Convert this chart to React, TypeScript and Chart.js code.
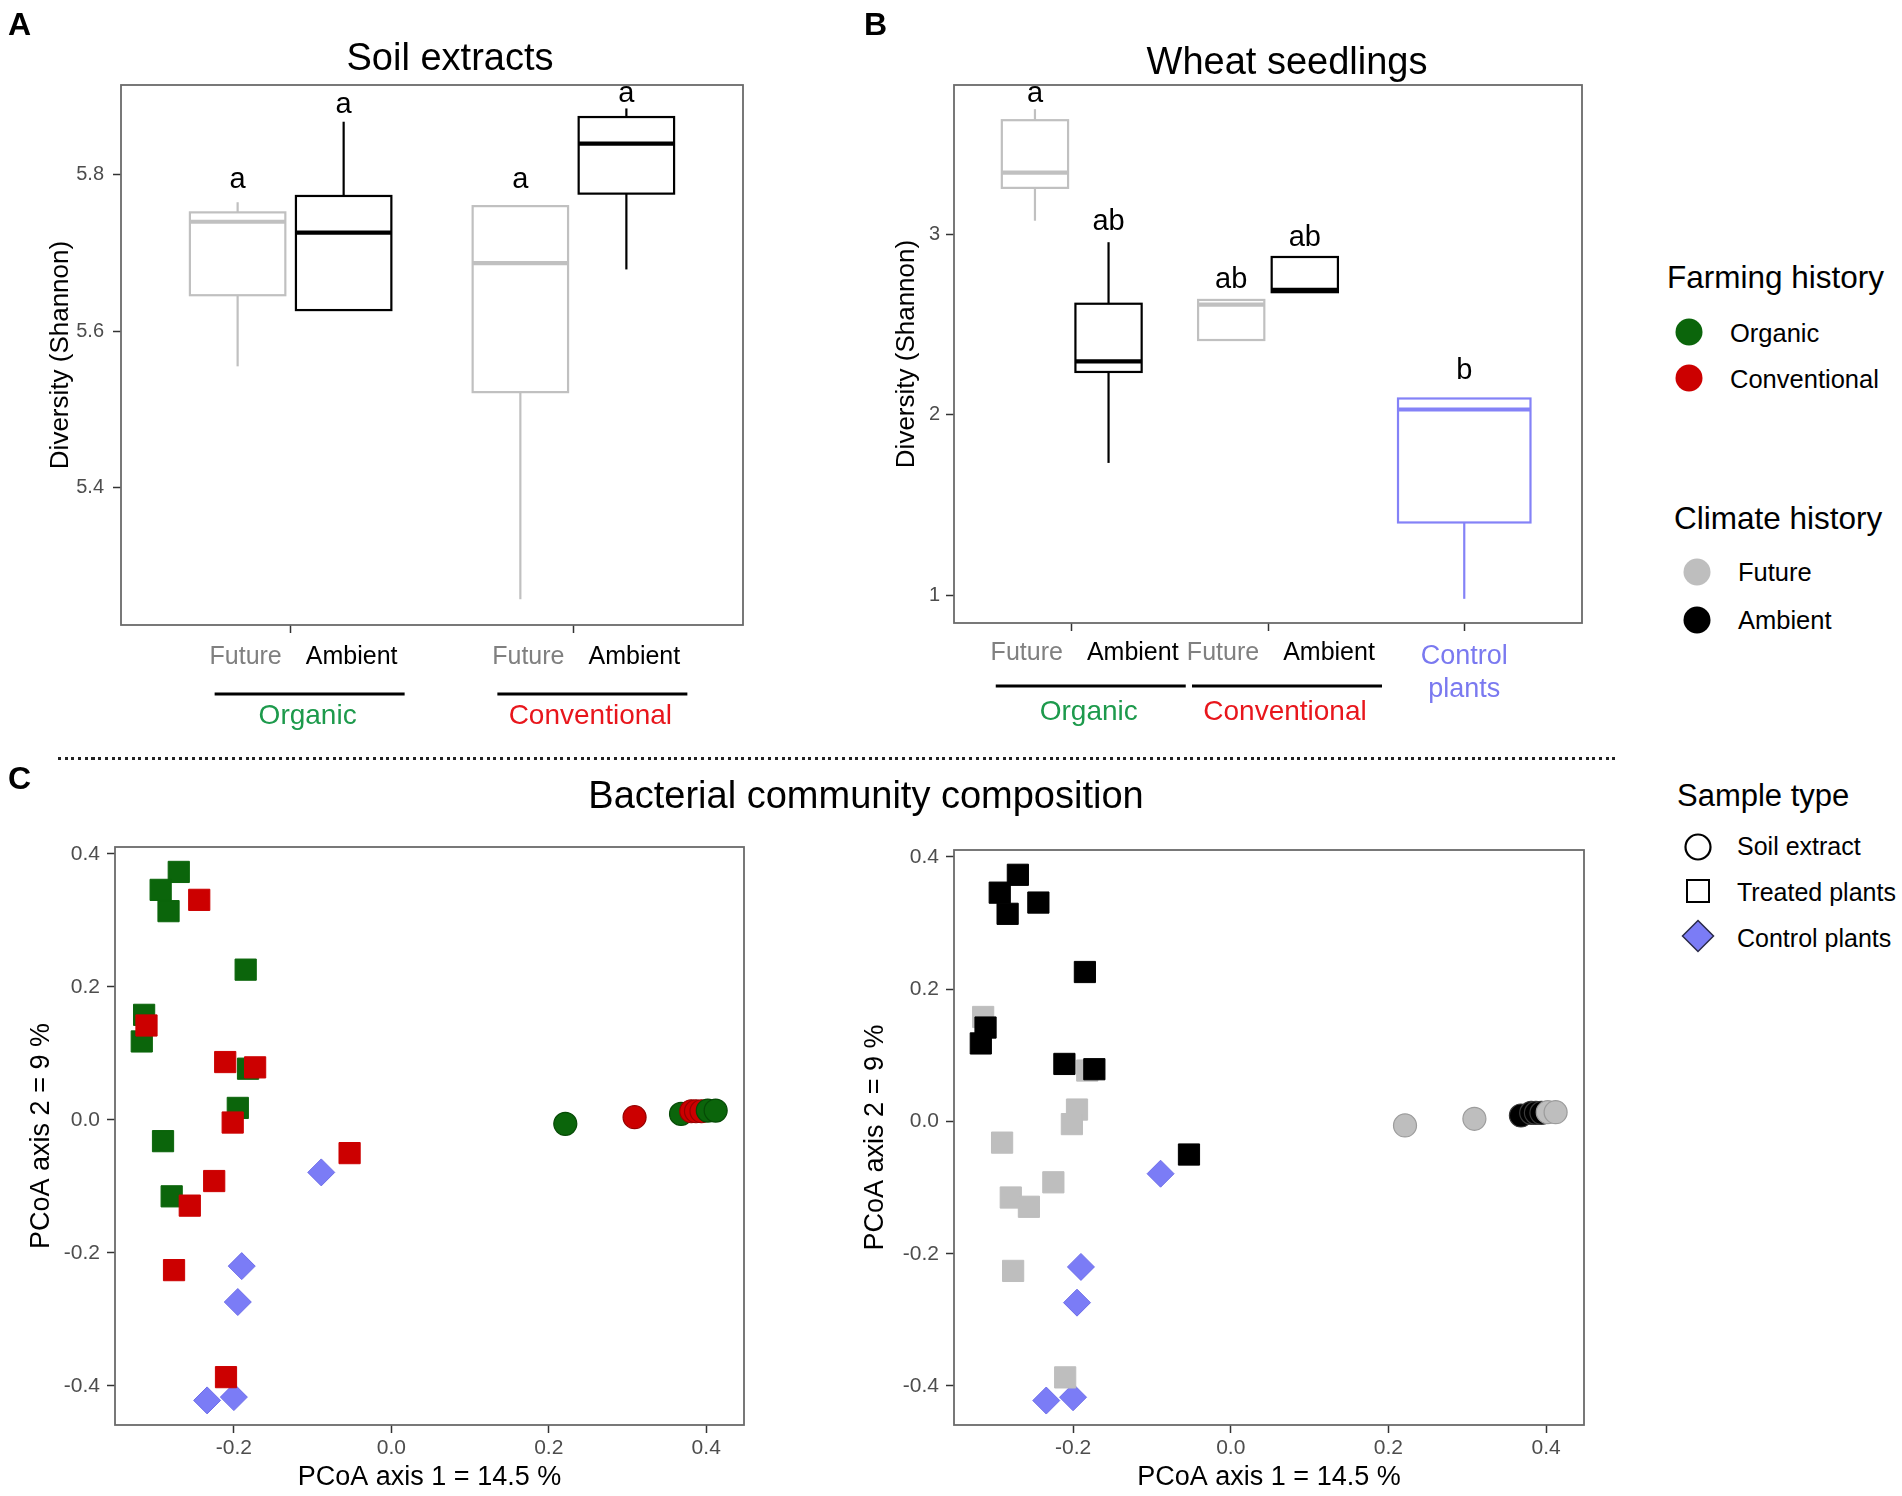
import React, { useEffect, useRef } from 'react';
import { Chart, registerables } from 'chart.js';

Chart.register(...registerables);

const FONT = '"Liberation Sans", Arial, Helvetica, sans-serif';
Chart.defaults.font.family = FONT;
Chart.defaults.color = '#000';

// ---------------- Panel A : Soil extracts ----------------
const soilGroups = ['Organic', 'Conventional'];
const soilBoxGroup = [1, 1, 2, 2];
const soilBoxClimate = ['Future', 'Ambient', 'Future', 'Ambient'];
const soilMin = [5.555, 5.627, 5.257, 5.679];
const soilQ1 = [5.646, 5.627, 5.522, 5.776];
const soilMedian = [5.74, 5.726, 5.687, 5.84];
const soilQ3 = [5.752, 5.773, 5.76, 5.874];
const soilMax = [5.765, 5.868, 5.76, 5.885];
const soilLetters = ['a', 'a', 'a', 'a'];
const soilLetterY = [5.794, 5.889, 5.794, 5.903];
const soilYTicks = [5.4, 5.6, 5.8];
const soilYRange = [5.224, 5.915];

// ---------------- Panel B : Wheat seedlings ----------------
const wheatGroups = ['Organic', 'Conventional', 'Control plants'];
const wheatBoxGroup = [1, 1, 2, 2, 3];
const wheatBoxClimate = ['Future', 'Ambient', 'Future', 'Ambient', 'Control'];
const wheatMin = [3.074, 1.732, 2.413, 2.678, 0.979];
const wheatQ1 = [3.256, 2.236, 2.413, 2.678, 1.402];
const wheatMedian = [3.34, 2.295, 2.609, 2.691, 2.028];
const wheatQ3 = [3.631, 2.614, 2.635, 2.873, 2.089];
const wheatMax = [3.692, 2.955, 2.635, 2.873, 2.089];
const wheatLetters = ['a', 'ab', 'ab', 'ab', 'b'];
const wheatLetterY = [3.775, 3.066, 2.746, 2.977, 2.244];
const wheatYTicks = [1, 2, 3];
const wheatYRange = [0.845, 3.826];

const climateLevels = ['Future', 'Ambient'];

// ---------------- Panel C : PCoA ----------------
const plantPC1 = [-0.27, -0.293, -0.283, -0.185, -0.314, -0.317, -0.182, -0.195, -0.29, -0.279,
  -0.244, -0.311, -0.211, -0.173, -0.2015, -0.053, -0.225, -0.256, -0.276, -0.21];
const plantPC2 = [0.373, 0.346, 0.314, 0.226, 0.158, 0.118, 0.077, 0.018, -0.032, -0.115,
  0.331, 0.142, 0.087, 0.079, -0.004, -0.05, -0.092, -0.129, -0.226, -0.387];
const plantFarming = ['Organic', 'Organic', 'Organic', 'Organic', 'Organic', 'Organic', 'Organic', 'Organic', 'Organic', 'Organic',
  'Conventional', 'Conventional', 'Conventional', 'Conventional', 'Conventional', 'Conventional', 'Conventional', 'Conventional', 'Conventional', 'Conventional'];
const plantClimate = ['Ambient', 'Ambient', 'Ambient', 'Ambient', 'Future', 'Ambient', 'Future', 'Future', 'Future', 'Future',
  'Ambient', 'Ambient', 'Ambient', 'Ambient', 'Future', 'Ambient', 'Future', 'Future', 'Future', 'Future'];
const controlPC1 = [-0.089, -0.19, -0.195, -0.234, -0.2];
const controlPC2 = [-0.079, -0.22, -0.274, -0.422, -0.417];
const soilPC1 = [0.221, 0.309, 0.368, 0.381, 0.387, 0.394, 0.402, 0.412];
const soilPC2 = [-0.006, 0.004, 0.009, 0.013, 0.013, 0.013, 0.014, 0.014];
const soilFarming = ['Organic', 'Conventional', 'Organic', 'Conventional', 'Conventional', 'Conventional', 'Organic', 'Organic'];
const soilClimate = ['Future', 'Future', 'Ambient', 'Ambient', 'Ambient', 'Ambient', 'Future', 'Future'];
const pcoaXTicks = [-0.2, 0, 0.2, 0.4];
const pcoaYTicks = [-0.4, -0.2, 0, 0.2, 0.4];
const pcoaXRange = [-0.351, 0.448];
const pcoaYRange = [-0.459, 0.4105];

// ---------------- styles ----------------
const farmingColor: Record<string, string> = { Organic: '#0b650b', Conventional: '#cc0000' };
const farmingBorder: Record<string, string> = { Organic: '#064a06', Conventional: '#960000' };
const climateColor: Record<string, string> = { Future: '#bebebe', Ambient: '#000000' };
const climateBorder: Record<string, string> = { Future: '#9c9c9c', Ambient: '#3a3a3a' };
const boxColor: Record<string, string> = { Future: '#c0c0c0', Ambient: '#000000', Control: '#8482f7' };
const groupTextColor: Record<string, string> = { Organic: '#1d9a4c', Conventional: '#e8161c', 'Control plants': '#7a79f0' };
const labelColor: Record<string, string> = { Future: '#808080', Ambient: '#000000' };
const CONTROL_FILL = '#7b7cf6';
const DODGE = 0.1875;
const HALF_BOX = 0.16875;

type BoxSpec = {
  group: number[]; climate: string[]; min: number[]; q1: number[]; med: number[]; q3: number[]; max: number[];
  letters: string[]; letterY: number[];
};

function boxPlugin(spec: BoxSpec) {
  return {
    id: 'boxes',
    afterDatasetsDraw(chart: any) {
      const { ctx, scales } = chart;
      const x = scales.x, y = scales.y;
      ctx.save();
      const line = (x1: number, y1: number, x2: number, y2: number) => {
        ctx.beginPath(); ctx.moveTo(x1, y1); ctx.lineTo(x2, y2); ctx.stroke();
      };
      spec.group.forEach((g, i) => {
        const c = spec.climate[i];
        const single = c === 'Control';
        const cx = g + (single ? 0 : c === 'Future' ? -DODGE : DODGE);
        const hw = single ? HALF_BOX * 2 : HALF_BOX;
        const xl = x.getPixelForValue(cx - hw);
        const xr = x.getPixelForValue(cx + hw);
        const xc = x.getPixelForValue(cx);
        const yMin = y.getPixelForValue(spec.min[i]);
        const yQ1 = y.getPixelForValue(spec.q1[i]);
        const yMed = y.getPixelForValue(spec.med[i]);
        const yQ3 = y.getPixelForValue(spec.q3[i]);
        const yMax = y.getPixelForValue(spec.max[i]);
        ctx.strokeStyle = boxColor[c];
        ctx.lineWidth = 2.2;
        line(xc, yQ3, xc, yMax);
        line(xc, yQ1, xc, yMin);
        ctx.fillStyle = '#ffffff';
        ctx.fillRect(xl, yQ3, xr - xl, yQ1 - yQ3);
        ctx.strokeRect(xl, yQ3, xr - xl, yQ1 - yQ3);
        ctx.lineWidth = 4.2;
        line(xl, yMed, xr, yMed);
        ctx.fillStyle = '#000';
        ctx.font = `29px ${FONT}`;
        ctx.textAlign = 'center';
        ctx.textBaseline = 'middle';
        ctx.fillText(spec.letters[i], xc, y.getPixelForValue(spec.letterY[i]));
      });
      ctx.restore();
    },
  };
}

function groupLabelPlugin(groups: string[], off: { lab: number; line: number; grp: number }) {
  return {
    id: 'groupLabels',
    afterDraw(chart: any) {
      const { ctx, chartArea, scales } = chart;
      const b = chartArea.bottom;
      ctx.save();
      ctx.textAlign = 'center';
      ctx.textBaseline = 'middle';
      groups.forEach((g, i) => {
        const px = scales.x.getPixelForValue(i + 1);
        if (g === 'Control plants') {
          ctx.fillStyle = groupTextColor[g];
          ctx.font = `27px ${FONT}`;
          const words = g.split(' ');
          ctx.fillText(words[0], px, b + off.lab + 4);
          ctx.fillText(words[1], px, b + off.lab + 37);
        } else {
          ctx.font = `25px ${FONT}`;
          ctx.fillStyle = labelColor[climateLevels[0]];
          ctx.fillText(climateLevels[0], px - 45, b + off.lab);
          ctx.fillStyle = labelColor[climateLevels[1]];
          ctx.fillText(climateLevels[1], px + 61, b + off.lab);
          ctx.strokeStyle = '#000';
          ctx.lineWidth = 3;
          ctx.beginPath();
          ctx.moveTo(px - 76, b + off.line);
          ctx.lineTo(px + 114, b + off.line);
          ctx.stroke();
          ctx.font = `28px ${FONT}`;
          ctx.fillStyle = groupTextColor[g];
          ctx.fillText(g, px + 17, b + off.grp);
        }
      });
      ctx.restore();
    },
  };
}

const framePlugin = {
  id: 'frame',
  afterDraw(chart: any) {
    const { ctx, chartArea: a } = chart;
    ctx.save();
    ctx.strokeStyle = '#6a6a6a';
    ctx.lineWidth = 1.8;
    ctx.strokeRect(a.left, a.top, a.right - a.left, a.bottom - a.top);
    ctx.restore();
  },
};

function yAxis(o: { range: number[]; ticks: number[]; width: number; fmt: (v: number) => string; title: string; titleSize: number; titlePad: number; tickPad: number; tickSize: number }) {
  return {
    type: 'linear',
    position: 'left',
    min: o.range[0],
    max: o.range[1],
    afterBuildTicks: (s: any) => { s.ticks = o.ticks.map((v) => ({ value: v })); },
    afterFit: (s: any) => { s.width = o.width; },
    ticks: { color: '#4d4d4d', font: { size: o.tickSize }, padding: o.tickPad, callback: (v: any) => o.fmt(Number(v)) },
    grid: { drawOnChartArea: false, drawTicks: true, tickLength: 8, tickColor: '#333', tickWidth: 1.5 },
    border: { display: false },
    title: { display: true, text: o.title, color: '#000', font: { size: o.titleSize, lineHeight: 1 }, padding: { top: o.titlePad, bottom: 0 } },
  };
}

function makeBoxChart(canvas: HTMLCanvasElement, o: {
  groups: string[]; spec: BoxSpec; yRange: number[]; yTicks: number[]; fmt: (v: number) => string;
  yWidth: number; titlePad: number; tickPad: number; xHeight: number; padding: any; off: any;
}) {
  return new Chart(canvas, {
    type: 'scatter',
    data: { datasets: [] },
    options: {
      animation: false,
      responsive: false,
      devicePixelRatio: 1,
      events: [],
      layout: { padding: o.padding },
      plugins: { legend: { display: false }, tooltip: { enabled: false }, title: { display: false } },
      scales: {
        x: {
          type: 'linear',
          position: 'bottom',
          min: 0.4,
          max: o.groups.length + 0.6,
          afterBuildTicks: (s: any) => { s.ticks = o.groups.map((_, i) => ({ value: i + 1 })); },
          afterFit: (s: any) => { s.height = o.xHeight; },
          ticks: { display: false },
          grid: { drawOnChartArea: false, drawTicks: true, tickLength: 8, tickColor: '#333', tickWidth: 1.5 },
          border: { display: false },
        },
        y: yAxis({ range: o.yRange, ticks: o.yTicks, width: o.yWidth, fmt: o.fmt, title: 'Diversity (Shannon)', titleSize: 26, titlePad: o.titlePad, tickPad: o.tickPad, tickSize: 20 }),
      },
    } as any,
    plugins: [boxPlugin(o.spec), groupLabelPlugin(o.groups, o.off), framePlugin],
  });
}

function makePcoaChart(canvas: HTMLCanvasElement, byClimate: boolean, o: { yWidth: number; titlePad: number; padding: any }) {
  const plantCols = byClimate ? plantClimate.map((c) => climateColor[c]) : plantFarming.map((f) => farmingColor[f]);
  const soilCols = byClimate ? soilClimate.map((c) => climateColor[c]) : soilFarming.map((f) => farmingColor[f]);
  const soilBorders = byClimate ? soilClimate.map((c) => climateBorder[c]) : soilFarming.map((f) => farmingBorder[f]);
  return new Chart(canvas, {
    type: 'scatter',
    data: {
      datasets: [
        {
          label: 'Treated plants',
          data: plantPC1.map((x, i) => ({ x, y: plantPC2[i] })),
          pointStyle: 'rect',
          pointRadius: 15,
          backgroundColor: plantCols,
          borderColor: plantCols,
          borderWidth: 1,
        },
        {
          label: 'Control plants',
          data: controlPC1.map((x, i) => ({ x, y: controlPC2[i] })),
          pointStyle: 'rectRot',
          pointRadius: 13.5,
          backgroundColor: CONTROL_FILL,
          borderColor: '#6e6ee8',
          borderWidth: 1,
        },
        {
          label: 'Soil extract',
          data: soilPC1.map((x, i) => ({ x, y: soilPC2[i] })),
          pointStyle: 'circle',
          pointRadius: 11.5,
          backgroundColor: soilCols,
          borderColor: soilBorders,
          borderWidth: 1.2,
        },
      ],
    },
    options: {
      animation: false,
      responsive: false,
      devicePixelRatio: 1,
      events: [],
      layout: { padding: o.padding },
      plugins: { legend: { display: false }, tooltip: { enabled: false }, title: { display: false } },
      scales: {
        x: {
          type: 'linear',
          position: 'bottom',
          min: pcoaXRange[0],
          max: pcoaXRange[1],
          afterBuildTicks: (s: any) => { s.ticks = pcoaXTicks.map((v) => ({ value: v })); },
          afterFit: (s: any) => { s.height = 71; },
          ticks: { color: '#4d4d4d', font: { size: 21 }, padding: 3, callback: (v: any) => Number(v).toFixed(1) },
          grid: { drawOnChartArea: false, drawTicks: true, tickLength: 8, tickColor: '#333', tickWidth: 1.5 },
          border: { display: false },
          title: { display: true, text: 'PCoA axis 1 = 14.5 %', color: '#000', font: { size: 27, lineHeight: 1 }, padding: { top: 0, bottom: 4.5 } },
        },
        y: yAxis({ range: pcoaYRange, ticks: pcoaYTicks, width: o.yWidth, fmt: (v) => v.toFixed(1), title: 'PCoA axis 2 = 9 %', titleSize: 27, titlePad: o.titlePad, tickPad: 7, tickSize: 21 }),
      },
    } as any,
    plugins: [framePlugin],
  });
}

const Text = ({ x, y, size, children, anchor = 'start', bold = false, color = '#000' }: any) => (
  <div
    style={{
      position: 'absolute', left: x, top: y - size / 2, fontSize: size, lineHeight: `${size}px`, fontFamily: FONT,
      fontWeight: bold ? 700 : 400, color, whiteSpace: 'nowrap', transform: anchor === 'middle' ? 'translateX(-50%)' : undefined,
    }}
  >
    {children}
  </div>
);

const Sym = ({ cx, cy, size, children }: any) => (
  <svg style={{ position: 'absolute', left: cx - size / 2, top: cy - size / 2 }} width={size} height={size} viewBox={`0 0 ${size} ${size}`}>
    {children}
  </svg>
);

export default function App() {
  const refA = useRef<HTMLCanvasElement>(null);
  const refB = useRef<HTMLCanvasElement>(null);
  const refC1 = useRef<HTMLCanvasElement>(null);
  const refC2 = useRef<HTMLCanvasElement>(null);

  useEffect(() => {
    const charts: Chart[] = [];
    charts.push(makeBoxChart(refA.current!, {
      groups: soilGroups,
      spec: { group: soilBoxGroup, climate: soilBoxClimate, min: soilMin, q1: soilQ1, med: soilMedian, q3: soilQ3, max: soilMax, letters: soilLetters, letterY: soilLetterY },
      yRange: soilYRange, yTicks: soilYTicks, fmt: (v) => v.toFixed(1),
      yWidth: 121, titlePad: 48, tickPad: 9, xHeight: 115,
      padding: { left: 0, top: 85, right: 17, bottom: 0 },
      off: { lab: 32, line: 69, grp: 91 },
    }));
    charts.push(makeBoxChart(refB.current!, {
      groups: wheatGroups,
      spec: { group: wheatBoxGroup, climate: wheatBoxClimate, min: wheatMin, q1: wheatQ1, med: wheatMedian, q3: wheatQ3, max: wheatMax, letters: wheatLetters, letterY: wheatLetterY },
      yRange: wheatYRange, yTicks: wheatYTicks, fmt: (v) => String(Math.round(v)),
      yWidth: 114, titlePad: 54, tickPad: 6, xHeight: 117,
      padding: { left: 0, top: 85, right: 18, bottom: 0 },
      off: { lab: 30, line: 63, grp: 89 },
    }));
    charts.push(makePcoaChart(refC1.current!, false, { yWidth: 115, titlePad: 28.5, padding: { left: 0, top: 87, right: 9, bottom: 0 } }));
    charts.push(makePcoaChart(refC2.current!, true, { yWidth: 124, titlePad: 32.5, padding: { left: 0, top: 90, right: 3, bottom: 0 } }));
    return () => charts.forEach((c) => c.destroy());
  }, []);

  const cv = (left: number, top: number, w: number, h: number) => ({ position: 'absolute' as const, left, top, width: w, height: h });

  return (
    <div style={{ position: 'absolute', left: 0, top: 0, width: 1902, height: 1496, background: '#fff', overflow: 'hidden', fontFamily: FONT }}>
      <canvas ref={refA} width={760} height={740} style={cv(0, 0, 760, 740)} />
      <canvas ref={refB} width={760} height={740} style={cv(840, 0, 760, 740)} />
      <canvas ref={refC1} width={760} height={736} style={cv(0, 760, 760, 736)} />
      <canvas ref={refC2} width={770} height={736} style={cv(830, 760, 770, 736)} />

      <Text x={8} y={24} size={32} bold>A</Text>
      <Text x={864} y={24} size={32} bold>B</Text>
      <Text x={8} y={778} size={32} bold>C</Text>

      <Text x={450} y={57} size={38} anchor="middle">Soil extracts</Text>
      <Text x={1287} y={61} size={38} anchor="middle">Wheat seedlings</Text>
      <Text x={866} y={795} size={38} anchor="middle">Bacterial community composition</Text>

      <div style={{ position: 'absolute', left: 58, top: 757, width: 1561, height: 3, background: 'repeating-linear-gradient(to right, #222 0px, #222 3px, transparent 3px, transparent 6.7px)' }} />

      {/* Farming history legend */}
      <Text x={1667} y={278} size={31.5}>Farming history</Text>
      <Sym cx={1689} cy={332} size={30}><circle cx={15} cy={15} r={13.5} fill={farmingColor.Organic} /></Sym>
      <Text x={1730} y={334} size={25.5}>Organic</Text>
      <Sym cx={1689} cy={378} size={30}><circle cx={15} cy={15} r={13.5} fill={farmingColor.Conventional} /></Sym>
      <Text x={1730} y={380} size={25.5}>Conventional</Text>

      {/* Climate history legend */}
      <Text x={1674} y={519} size={31.5}>Climate history</Text>
      <Sym cx={1697} cy={572} size={30}><circle cx={15} cy={15} r={13.5} fill={climateColor.Future} /></Sym>
      <Text x={1738} y={573} size={25.5}>Future</Text>
      <Sym cx={1697} cy={620} size={30}><circle cx={15} cy={15} r={13.5} fill={climateColor.Ambient} /></Sym>
      <Text x={1738} y={621} size={25.5}>Ambient</Text>

      {/* Sample type legend */}
      <Text x={1677} y={795} size={31}>Sample type</Text>
      <Sym cx={1698} cy={847} size={32}><circle cx={16} cy={16} r={12.5} fill="none" stroke="#000" strokeWidth={2.2} /></Sym>
      <Text x={1737} y={846} size={25}>Soil extract</Text>
      <Sym cx={1698} cy={891} size={32}><rect x={5} y={5} width={22} height={22} fill="none" stroke="#000" strokeWidth={2} /></Sym>
      <Text x={1737} y={892} size={25}>Treated plants</Text>
      <Sym cx={1698} cy={936} size={36}><polygon points="18,2.5 33.5,18 18,33.5 2.5,18" fill={CONTROL_FILL} stroke="#2a2a4a" strokeWidth={1.5} /></Sym>
      <Text x={1737} y={938} size={25}>Control plants</Text>
    </div>
  );
}
